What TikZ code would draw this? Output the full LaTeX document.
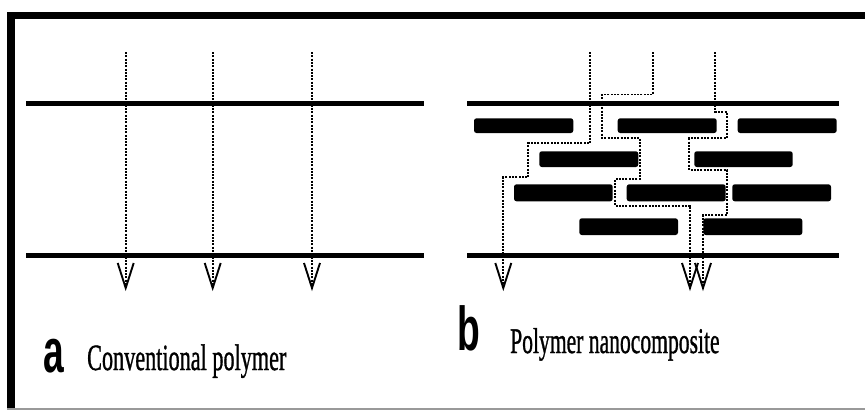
\documentclass[tikz,border=0pt]{standalone}
\usepackage{fontspec}
\setmainfont{Liberation Serif}
\newfontfamily\labelfont{Liberation Sans}
\newfontfamily\capfont[FakeBold=1.2]{Liberation Serif}
\usepackage{graphicx}
\begin{document}
\begin{tikzpicture}[x=1pt,y=-1pt,
  layer/.style={line width=5pt},
  bar/.style={fill=black, rounded corners=2.5pt},
  path/.style={line width=1.7pt, dash pattern=on 2pt off 1.3pt},
  vtip/.style={line width=1.9pt, miter limit=20},
  caption/.style={anchor=base west, inner sep=0pt}]
\useasboundingbox (0,0) rectangle (865,410);
% frame
\fill (7,11.5) rectangle (865,19);
\fill (7,11.5) rectangle (14.5,410);
\draw[gray!80, line width=1.3pt] (7,409) -- (865,409);

% ---- panel a ----
\draw[layer] (26,103) -- (424,103);
\draw[layer] (26,255) -- (424,255);
\foreach \x in {125.7,212.7,312}{
  \draw[path] (\x,52) -- (\x,287);
  \draw[vtip] (\x-8,263) -- (\x,288) -- (\x+8,263);
}

% ---- panel b ----
\draw[layer] (467,103) -- (839,103);
\draw[layer] (467,255) -- (839,255);
% platelets
\fill[bar] (474,118.3) rectangle (573.3,133);
\fill[bar] (617.7,118.3) rectangle (716.7,133);
\fill[bar] (737.7,118.3) rectangle (836.7,133);
\fill[bar] (539.3,151.3) rectangle (638.3,167);
\fill[bar] (694.3,151.3) rectangle (792.7,167);
\fill[bar] (514,184.3) rectangle (612.7,201.3);
\fill[bar] (626.7,184.3) rectangle (725.7,201.3);
\fill[bar] (732.3,184.3) rectangle (831,201.3);
\fill[bar] (579.3,218.3) rectangle (678,235);
\fill[bar] (703.3,218.3) rectangle (802.3,235);
% tortuous paths
\draw[path] (590,52) -- (590,143.3) -- (528.3,143.3) -- (528.3,177.3)
  -- (503.3,177.3) -- (503.3,287);
\draw[path] (652.7,52) -- (652.7,94.5) -- (602.3,94.5) -- (602.3,138.3)
  -- (640,138.3) -- (640,179) -- (615,179) -- (615,205.7) -- (690,205.7) -- (690,287);
\draw[path] (715,52) -- (715,111.7) -- (726.7,111.7) -- (726.7,138.3)
  -- (689.3,138.3) -- (689.3,170) -- (727.3,170) -- (727.3,215)
  -- (703,215) -- (703,287);
\foreach \x in {503.3,690,703}{
  \draw[vtip] (\x-8,263) -- (\x,288) -- (\x+8,263);
}

% ---- captions ----
\node[caption] (la) at (43,372) {\scalebox{0.6}[1]{\labelfont\bfseries\fontsize{62}{62}\selectfont a}};
\node[caption] (ta) at (87,370) {\scalebox{0.6}[1]{\capfont\fontsize{37}{37}\selectfont Conventional polymer}};
\node[caption] (lb) at (457,350) {\scalebox{0.6}[1]{\labelfont\bfseries\fontsize{62}{62}\selectfont b}};
\node[caption] (tb) at (510,353) {\scalebox{0.6}[1]{\capfont\fontsize{36}{36}\selectfont Polymer nanocomposite}};
\end{tikzpicture}
\end{document}
